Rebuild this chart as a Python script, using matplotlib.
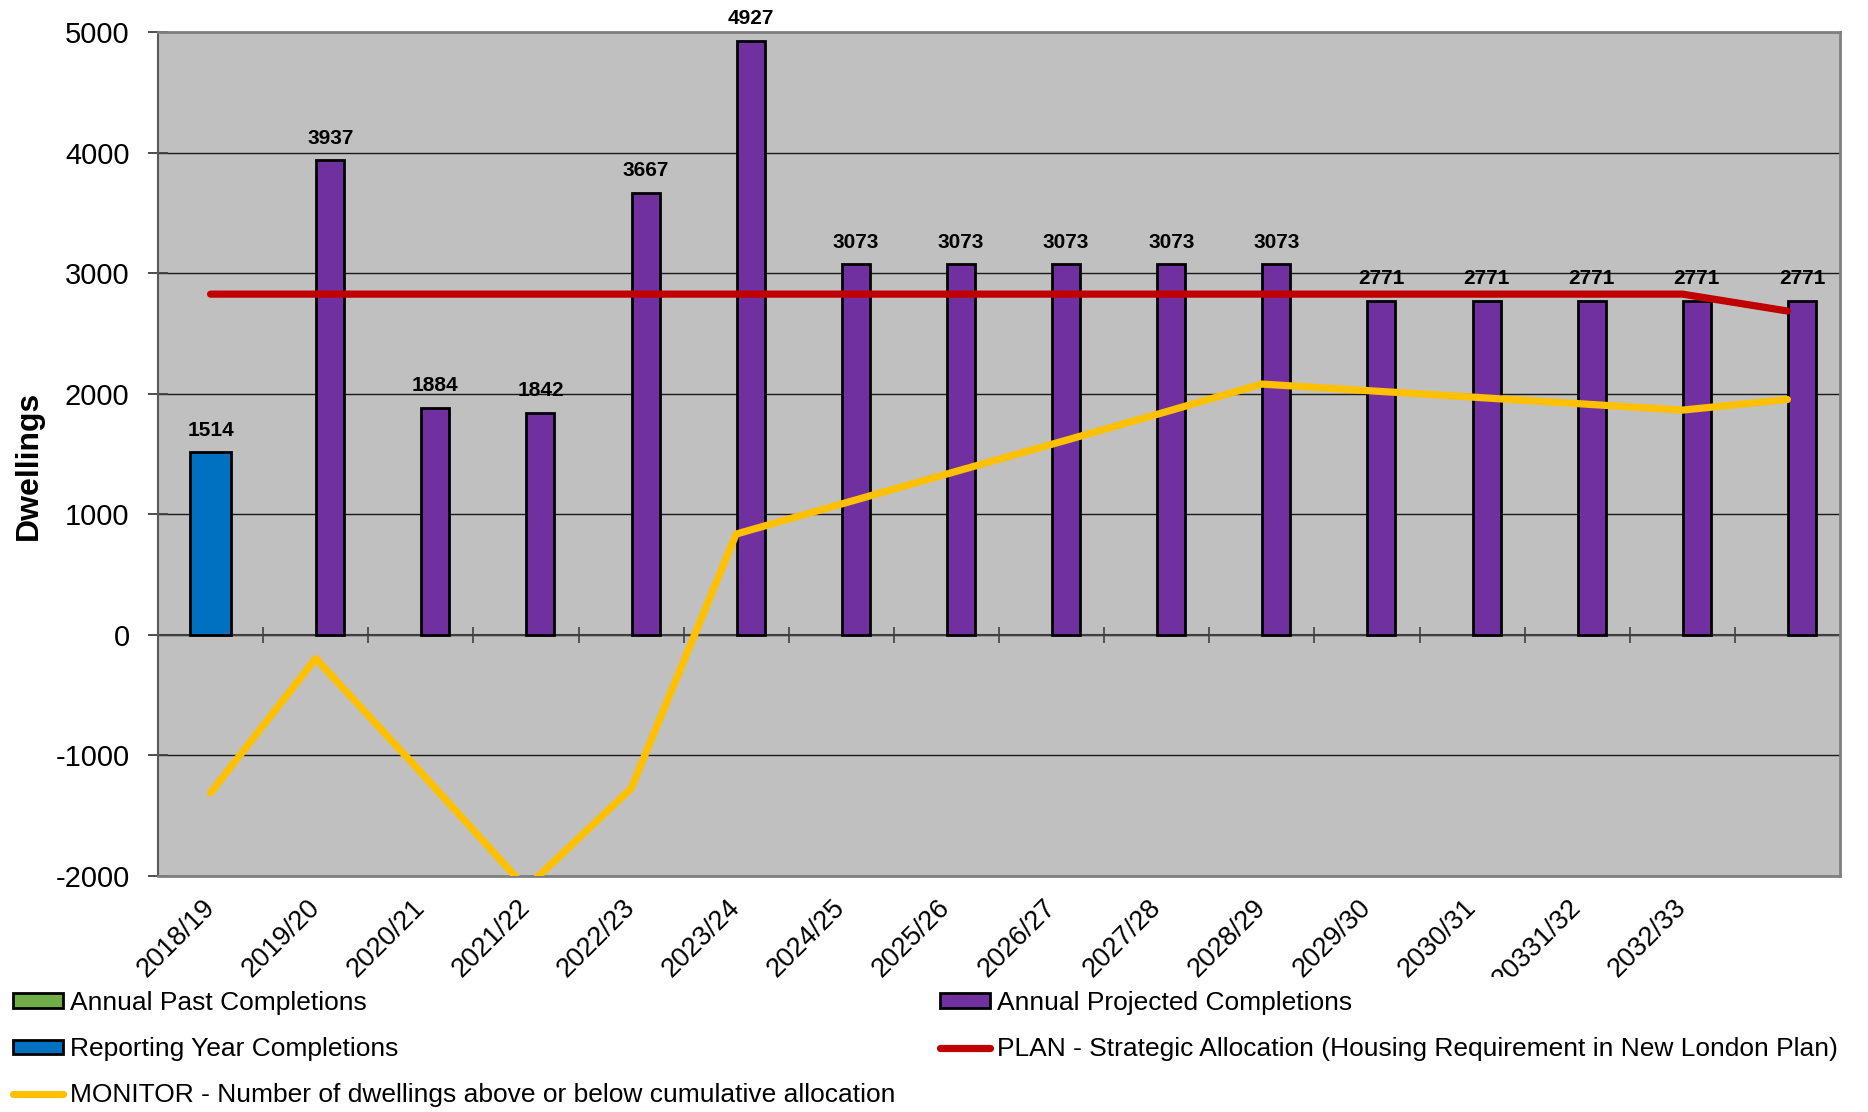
import matplotlib
matplotlib.use('Agg')
import matplotlib.pyplot as plt
import numpy as np
from matplotlib.patches import Patch
from matplotlib.lines import Line2D
from matplotlib.transforms import Bbox, TransformedBbox

plt.rcParams['font.family'] = ['Liberation Sans', 'DejaVu Sans']
plt.rcParams['axes.unicode_minus'] = False

# ---------------- data ----------------
years = ['2018/19', '2019/20', '2020/21', '2021/22', '2022/23', '2023/24',
         '2024/25', '2025/26', '2026/27', '2027/28', '2028/29', '2029/30',
         '2030/31', '20331/32', '2032/33', '']
past_completions = []  # no values shown
reporting_year = [1514, None, None, None, None, None, None, None,
                  None, None, None, None, None, None, None, None]
projected = [None, 3937, 1884, 1842, 3667, 4927, 3073, 3073, 3073, 3073,
             3073, 2771, 2771, 2771, 2771, 2771]
plan = [2826] * 15 + [2686]
monitor = [-1310, -196, -1140, -2100, -1275, 836, 1085, 1333, 1580, 1828,
           2080, 2026, 1972, 1918, 1864, 1952]

c_past = '#70AD47'
c_rep = '#0070C0'
c_proj = '#7030A0'
c_plan = '#C00000'
c_mon = '#FFC000'

W, H = 1868, 1112
fig = plt.figure(figsize=(W / 100, H / 100), dpi=100)
ax = fig.add_axes([158 / W, 1 - 876 / H, 1682 / W, 844 / H])
ax.set_facecolor('#C0C0C0')

x = np.arange(len(years))
ax.set_xlim(-0.5, len(years) - 0.5)
ax.set_ylim(-2000, 5000)

# grid
ax.set_yticks(np.arange(-2000, 5001, 1000))
ax.yaxis.grid(True, color='#1a1a1a', lw=1.0, zorder=0)
ax.set_axisbelow(True)

# zero (category) axis with crossing ticks
ax.axhline(0, color='#404040', lw=1.5, zorder=1.5)
bounds = x[:-1] + 0.5
ax.plot(bounds, np.zeros(len(bounds)), ls='none', marker='|', markersize=11.5,
        mew=1.2, color='#404040', zorder=1.6)

# bars
rx = [i for i, v in enumerate(reporting_year) if v is not None]
rv = [v for v in reporting_year if v is not None]
ax.bar(rx, rv, width=0.383, color=c_rep, edgecolor='black', linewidth=2, zorder=2)

px = [i for i, v in enumerate(projected) if v is not None]
pv = [v for v in projected if v is not None]
pw = 0.266
ax.bar(np.array(px) + 0.005, pv, width=pw, align='edge', color=c_proj,
       edgecolor='black', linewidth=2, zorder=2)

# lines
ax.plot(x, plan, color=c_plan, lw=5.2, solid_capstyle='round',
        solid_joinstyle='round', zorder=4)
ax.plot(x, monitor, color=c_mon, lw=5.2, solid_capstyle='round',
        solid_joinstyle='round', zorder=4)

# data labels
for xi, v in zip(rx, rv):
    ax.annotate(str(v), (xi, v), xytext=(0, 9), textcoords='offset points',
                ha='center', va='bottom', fontsize=15, fontweight='bold', zorder=6)
for xi, v in zip(px, pv):
    ax.annotate(str(v), (xi + 0.005 + pw / 2, v), xytext=(0, 9),
                textcoords='offset points', ha='center', va='bottom',
                fontsize=15, fontweight='bold', zorder=6)

# axes styling
ax.spines['left'].set_color('#595959')
ax.spines['left'].set_linewidth(1.5)
for s in ['bottom', 'top', 'right']:
    ax.spines[s].set_color('#808080')
    ax.spines[s].set_linewidth(2)

ax.tick_params(axis='y', direction='inout', length=14, width=1.3,
               color='#404040', pad=13.5, labelsize=21)
ax.set_xticks(x)
ax.set_xticklabels(years, rotation=45, ha='right', va='center',
                   rotation_mode='anchor')
ax.tick_params(axis='x', length=0, pad=20, labelsize=19.5)

ax.set_ylabel('Dwellings', fontsize=23, fontweight='bold')
ax.yaxis.set_label_coords(-0.068, 0.487)

# clip the partially hidden label
clip = TransformedBbox(Bbox([[0, 1 - 977 / H], [1, 1]]), fig.transFigure)
lab = ax.get_xticklabels()[13]
lab.set_clip_box(clip)
lab.set_clip_on(True)

# legends
fs = 19
common = dict(frameon=False, fontsize=fs, handlelength=1.9, handleheight=0.47,
              handletextpad=0.25, labelspacing=0.84, borderpad=0,
              borderaxespad=0, loc='upper left')
h_left = [Patch(facecolor=c_past, edgecolor='black', lw=2),
          Patch(facecolor=c_rep, edgecolor='black', lw=2),
          Line2D([], [], color=c_mon, lw=5.2, solid_capstyle='round')]
l_left = ['Annual Past Completions', 'Reporting Year Completions',
          'MONITOR - Number of dwellings above or below cumulative allocation']
h_right = [Patch(facecolor=c_proj, edgecolor='black', lw=2),
           Line2D([], [], color=c_plan, lw=5.2, solid_capstyle='round')]
l_right = ['Annual Projected Completions',
           'PLAN - Strategic Allocation (Housing Requirement in New London Plan)']
leg1 = fig.legend(h_left, l_left, bbox_to_anchor=(13 / W, 1 - 991 / H), **common)
leg2 = fig.legend(h_right, l_right, bbox_to_anchor=(940 / W, 1 - 991 / H), **common)

fig.savefig('out.png', dpi=100, facecolor='white')
